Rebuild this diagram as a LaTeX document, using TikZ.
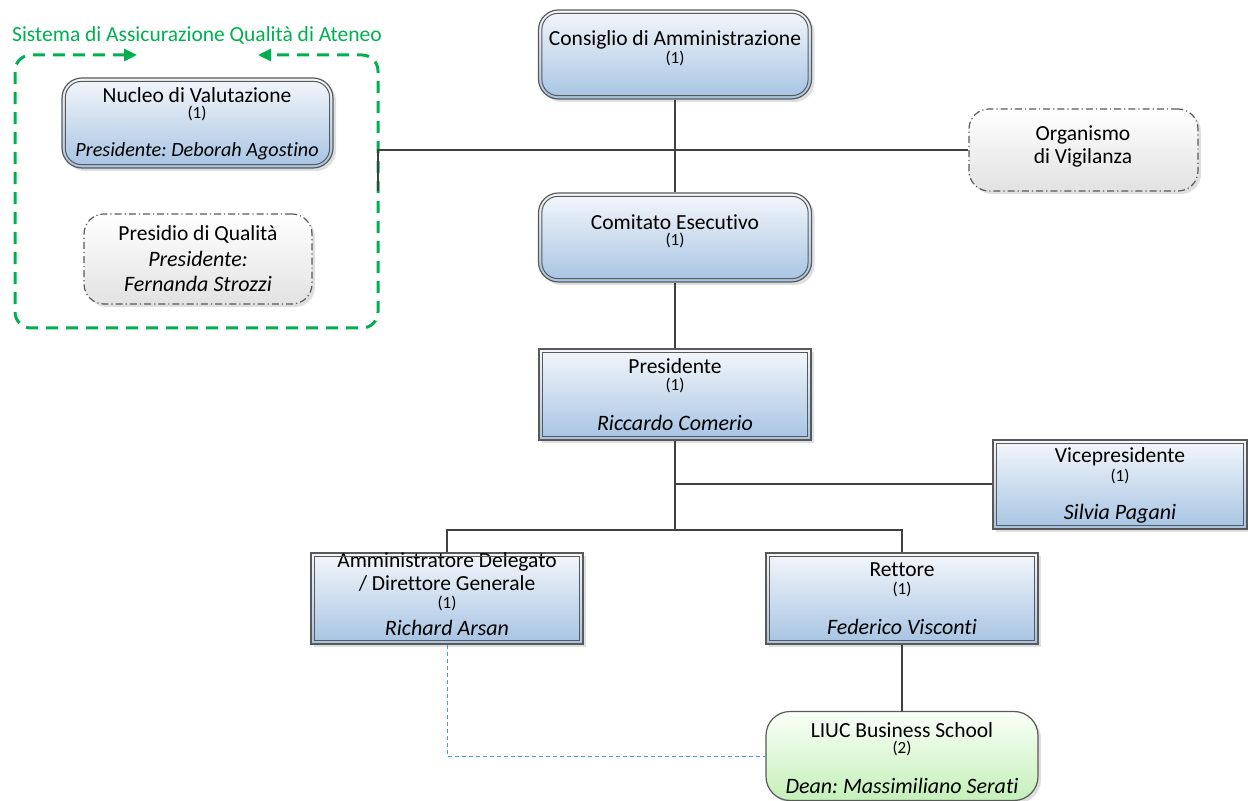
\documentclass[tikz,border=0pt]{standalone}
\usepackage{fontspec}
\setmainfont[Ligatures={NoCommon}]{Carlito}
\frenchspacing
\usetikzlibrary{calc,shadows,arrows.meta}

\definecolor{boxline}{RGB}{89,89,89}
\definecolor{bluetop}{RGB}{244,247,251}
\definecolor{bluebot}{RGB}{166,195,226}
\definecolor{greytop}{RGB}{255,255,255}
\definecolor{greybot}{RGB}{226,226,226}
\definecolor{greentop}{RGB}{250,255,248}
\definecolor{greenbot}{RGB}{196,240,184}
\definecolor{qagreen}{RGB}{0,176,80}
\definecolor{linkblue}{RGB}{70,160,210}
\definecolor{wirecol}{RGB}{64,64,64}

\tikzset{
  orgbox/.style={rectangle, draw=boxline, line width=0.6pt, inner sep=0pt,
    top color=bluetop, bottom color=bluebot,
    drop shadow={opacity=0.25, shadow xshift=1.5pt, shadow yshift=-1.5pt}},
  boardbox/.style={orgbox, rounded corners=10pt},
  watchbox/.style={orgbox, rounded corners=10pt, top color=greytop, bottom color=greybot,
    dash pattern=on 3.5pt off 1.5pt on 0.6pt off 1.5pt},
  schoolbox/.style={orgbox, rounded corners=12pt, top color=greentop, bottom color=greenbot},
  inframe/.style={draw=boxline, line width=0.5pt},
  role/.style={inner sep=0pt},
  seat/.style={inner sep=0pt, font=\fontsize{8.5}{10}\selectfont},
  person/.style={inner sep=0pt, font=\fontsize{11}{13}\selectfont\itshape},
  wire/.style={draw=wirecol, line width=1pt},
  link/.style={draw=linkblue, line width=0.5pt, dash pattern=on 2pt off 1.5pt},
  qaline/.style={draw=qagreen, line width=1.5pt, dash pattern=on 6pt off 4pt,
    <->, >={Triangle[length=6.5pt, width=6pt]}},
}

\begin{document}
\begin{tikzpicture}[x=0.5pt, y=-0.5pt, font=\fontsize{10.75}{13}\selectfont]
  \useasboundingbox (0,0) rectangle (1248,801);

  % quality assurance group
  \node[qagreen, inner sep=0pt] (qa-t) at (197,35) {Sistema di Assicurazione Qualità di Ateneo};
  \draw[qaline, rounded corners=8pt] (137,55) -- (15,55) -- (15,328) -- (378,328) -- (378,55) -- (258,55);
  \coordinate (qa-e) at (378,191);

  \node[boardbox, minimum width=135.5pt, minimum height=45pt] (nuv) at (197.5,123) {};
  \node[role] (nuv-t) at (197,95) {Nucleo di Valutazione};
  \node[seat] (nuv-s) at (197,113) {(1)};
  \node[person, font=\fontsize{10.1}{12}\selectfont\itshape] (nuv-p) at (197,151) {Presidente: Deborah Agostino};

  \node[watchbox, minimum width=114pt, minimum height=45pt] (pdq) at (198,259) {};
  \node[role] (pdq-t) at (198,234) {Presidio di Qualità};
  \node[person] (pdq-p) at (198,259) {Presidente:};
  \node[person] (pdq-n) at (198,284) {Fernanda Strozzi};

  % governing bodies
  \node[boardbox, minimum width=136.5pt, minimum height=44.5pt] (cda) at (675,54.5) {};
  \node[role] (cda-t) at (675,40) {Consiglio di Amministrazione};
  \node[seat] (cda-s) at (675,58) {(1)};

  \node[boardbox, minimum width=136.5pt, minimum height=44.5pt] (ce) at (675,237.5) {};
  \node[role] (ce-t) at (675,222) {Comitato Esecutivo};
  \node[seat] (ce-s) at (675,240) {(1)};

  \node[watchbox, minimum width=114.5pt, minimum height=41pt] (odv) at (1083.5,150) {};
  \node[role] (odv-t) at (1083,135) {Organismo};
  \node[role] (odv-n) at (1083,158) {di Vigilanza};

  % officers
  \node[orgbox, minimum width=136pt, minimum height=45.5pt] (pres) at (675,394.5) {};
  \node[role] (pres-t) at (675,366) {Presidente};
  \node[seat] (pres-s) at (675,385) {(1)};
  \node[person] (pres-p) at (675,423) {Riccardo Comerio};

  \node[orgbox, minimum width=127pt, minimum height=44.5pt] (vp) at (1120,484.5) {};
  \node[role] (vp-t) at (1120,457) {Vicepresidente};
  \node[seat] (vp-s) at (1120,476) {(1)};
  \node[person] (vp-p) at (1120,514) {Silvia Pagani};

  \node[orgbox, minimum width=136pt, minimum height=45.5pt] (ad) at (447,598.5) {};
  \node[role] (ad-t) at (447,562) {Amministratore Delegato};
  \node[role] (ad-u) at (447,583) {/ Direttore Generale};
  \node[seat] (ad-s) at (447,603) {(1)};
  \node[person] (ad-p) at (447,628) {Richard Arsan};

  \node[orgbox, minimum width=136pt, minimum height=45.5pt] (ret) at (902,598.5) {};
  \node[role] (ret-t) at (902,570) {Rettore};
  \node[seat] (ret-s) at (902,589) {(1)};
  \node[person] (ret-p) at (902,627) {Federico Visconti};

  \node[schoolbox, minimum width=136pt, minimum height=44.5pt] (liuc) at (902,756) {};
  \node[role] (liuc-t) at (902,730) {LIUC Business School};
  \node[seat] (liuc-s) at (902,748) {(2)};
  \node[person] (liuc-p) at (902,786) {Dean: Massimiliano Serati};

  % inner frames
  \foreach \b in {nuv,cda,ce}
    \draw[inframe, rounded corners=8pt] ($(\b.north west)+(4,4)$) rectangle ($(\b.south east)+(-4,-4)$);
  \foreach \b in {pres,vp,ad,ret}
    \draw[inframe] ($(\b.north west)+(4,4)$) rectangle ($(\b.south east)+(-4,-4)$);

  % connectors
  \coordinate (fork) at (675,530);
  \draw[wire] (cda.south) -- (ce.north);
  \draw[wire] (qa-e) |- (odv.west);
  \draw[wire] (ce.south) -- (pres.north);
  \draw[wire] (pres.south) -- (fork);
  \draw[wire] (fork) -| (ad.north);
  \draw[wire] (fork) -| (ret.north);
  \draw[wire] (pres.south |- vp.west) -- (vp.west);
  \draw[wire] (ret.south) -- (liuc.north);
  \draw[link] (ad.south) |- (liuc.west);
\end{tikzpicture}
\end{document}
